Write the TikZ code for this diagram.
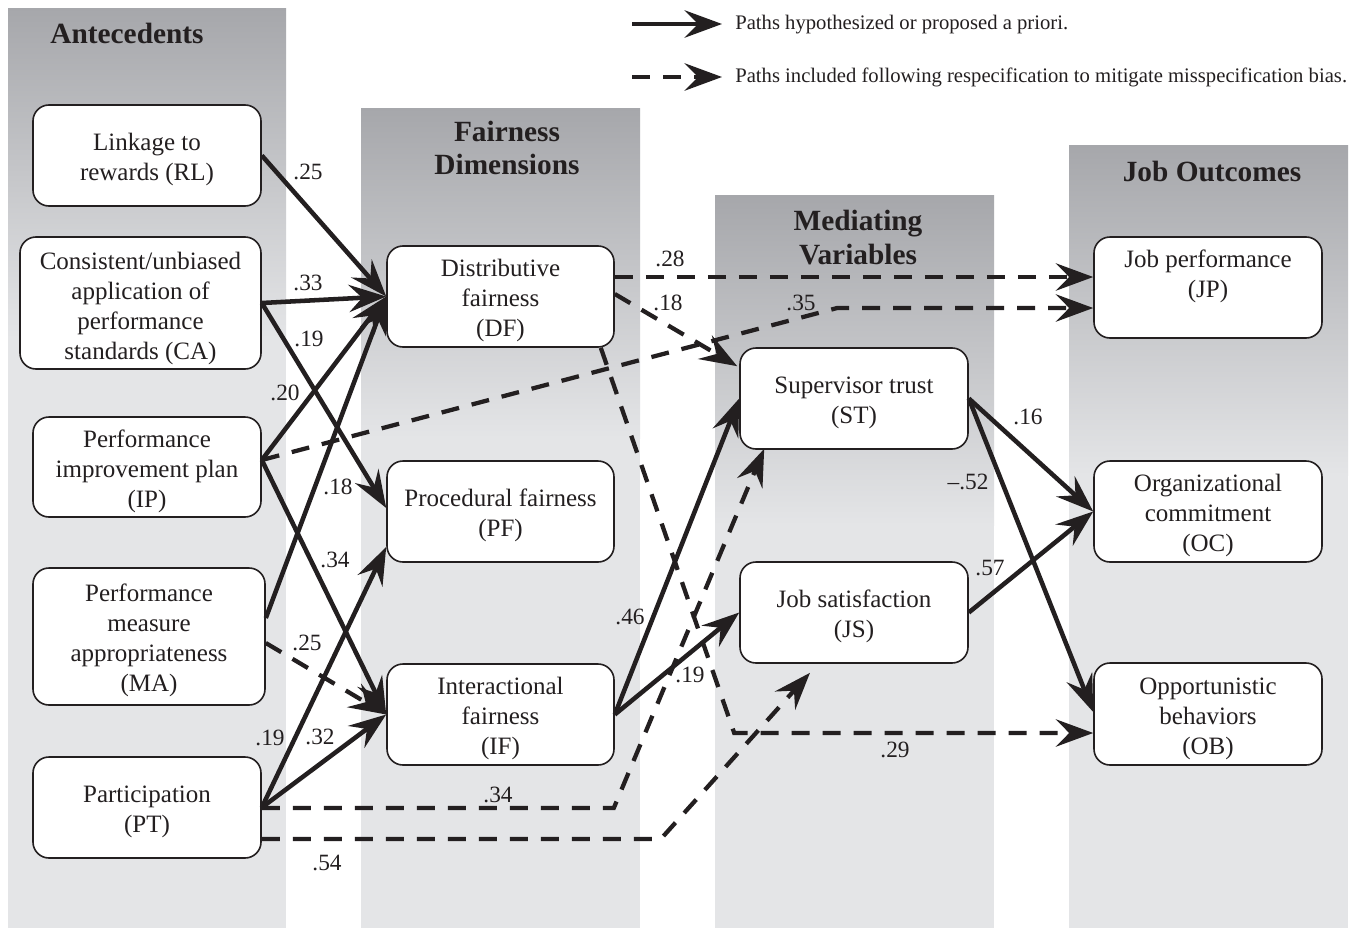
\documentclass[tikz,border=0pt]{standalone}
\usepackage{fontspec}
\setmainfont{Liberation Serif}
\usetikzlibrary{arrows.meta,calc}
\definecolor{ink}{RGB}{35,31,32}
\definecolor{bandtop}{RGB}{166,167,171}
\definecolor{bandbot}{RGB}{228,229,231}
\newcommand\Tstrut{\rule{0pt}{19pt}}
\begin{document}
\begin{tikzpicture}[x=0.75pt,y=-0.75pt,
  box/.style={draw=ink, line width=1.2pt, fill=white, rounded corners=12pt, align=center, inner sep=0pt, font=\fontsize{18.75}{22.5}\selectfont, text=ink},
  head/.style={font=\fontsize{22}{26}\selectfont\bfseries, text=ink, inner sep=0pt, anchor=base},
  lab/.style={font=\fontsize{17.5}{20}\selectfont, text=ink, inner sep=0pt},
  link/.style={draw=ink, line width=3.4pt, -{Stealth[length=28pt,width=20.5pt,inset=10pt]}},
  dlink/.style={link, line width=3.2pt, dash pattern=on 13.5pt off 9.75pt},
  legtext/.style={font=\fontsize{15.5}{18}\selectfont, text=ink, inner sep=0pt, anchor=base west},
]
\useasboundingbox (0,0) rectangle (1353,928);
\fill[white] (0,0) rectangle (1353,928);
% bands
\foreach \xa/\xb/\yt in {8/286/8, 361/640/108, 715/994/195, 1069/1348/145} {
  \shade[top color=bandtop, bottom color=bandbot] (\xa,\yt) rectangle (\xb,\yt+330);
  \fill[bandbot] (\xa,\yt+329) rectangle (\xb,928);
}
% headings
\node[head] (hAnt) at (127,43) {Antecedents};
\node[head] (hFair1) at (507,141) {Fairness};
\node[head] (hFair2) at (507,174) {Dimensions};
\node[head] (hMed1) at (858,230) {Mediating};
\node[head] (hMed2) at (858,264) {Variables};
\node[head] (hJob) at (1212,181) {Job Outcomes};
% boxes
\node[box, minimum width=171pt, minimum height=75.75pt] (RL) at (147,155.5) {\Tstrut Linkage to\\rewards (RL)};
\node[box, minimum width=180.75pt, minimum height=99pt] (CA) at (140.5,303) {\rule{0pt}{21pt}Consistent/unbiased\\application of\\performance\\standards (CA)};
\node[box, minimum width=171pt, minimum height=75pt] (IP) at (147,467) {\Tstrut Performance\\improvement plan\\(IP)};
\node[box, minimum width=174pt, minimum height=102.75pt] (MA) at (149,636.5) {\Tstrut Performance\\measure\\appropriateness\\(MA)};
\node[box, minimum width=171pt, minimum height=75.75pt] (PT) at (147,807.5) {\Tstrut Participation\\(PT)};
\node[box, minimum width=170.25pt, minimum height=75.75pt] (DF) at (500.5,296.5) {\Tstrut Distributive\\fairness\\(DF)};
\node[box, minimum width=170.25pt, minimum height=75.75pt] (PF) at (500.5,511.5) {\Tstrut Procedural fairness\\(PF)};
\node[box, minimum width=170.25pt, minimum height=75.75pt] (IF) at (500.5,714.5) {\Tstrut Interactional\\fairness\\(IF)};
\node[box, minimum width=171pt, minimum height=75.75pt] (ST) at (854,398.5) {\Tstrut Supervisor trust\\(ST)};
\node[box, minimum width=171pt, minimum height=75.75pt] (JS) at (854,612.5) {\Tstrut Job satisfaction\\(JS)};
\node[box, minimum width=171pt, minimum height=75.75pt] (JP) at (1208,287.5) {Job performance\\(JP)\rule[-20.5pt]{0pt}{0pt}};
\node[box, minimum width=171pt, minimum height=75.75pt] (OC) at (1208,511.5) {\Tstrut Organizational\\commitment\\(OC)};
\node[box, minimum width=171pt, minimum height=76.5pt] (OB) at (1208,714) {\rule{0pt}{20pt}Opportunistic\\behaviors\\(OB)};
% solid paths
\draw[link] (RL.east) -- (DF.west);
\draw[link] (CA.east) -- (DF.west);
\draw[link] (CA.east) -- ($(PF.west)+(0,-3.5)$);
\draw[link] ($(IP.east)+(0,-7)$) -- (DF.west);
\draw[link] ($(IP.east)+(0,-7)$) -- (IF.west);
\draw[link] ($(MA.east)+(0,-18.5)$) -- (DF.west);
\draw[link] (PT.east) -- ($(PF.west)+(0,35.5)$);
\draw[link] (PT.east) -- (IF.west);
\draw[link] (IF.east) -- (ST.west);
\draw[link] (IF.east) -- (JS.west);
\draw[link] (ST.east) -- (OC.west);
\draw[link] (ST.east) -- ($(OB.west)+(0,-2)$);
\draw[link] (JS.east) -- (OC.west);
% dashed paths
\draw[dlink] ($(MA.east)+(0,6.5)$) -- (IF.west);
\draw[dlink] ($(DF.east)+(0,-19.5)$) -- ($(JP.west)+(0,-10.5)$);
\draw[dlink] ($(DF.east)+(0,-2.5)$) -- ($(ST.north west)+(-2,19)$);
\draw[dlink] ($(DF.south east)+(-14,0)$) -- ($(OB.west)+(-359,19)$) -- ($(OB.west)+(0,19)$);
\draw[dlink] ($(IP.east)+(0,-7)$) -- ($(JP.west)+(-256,20.5)$) -- ($(JP.west)+(0,20.5)$);
\draw[dlink] ($(PT.east)+(0,0.5)$) -- ($(PT.east)+(352,0.5)$) -- ($(ST.south west)+(25,-1)$);
\draw[dlink] ($(PT.east)+(0,31.5)$) -- ($(PT.east)+(399,31.5)$) -- ($(JS.south)+(-44,9)$);
% labels
\node[lab] (a1) at (308,172) {.25};
\node[lab] (a2) at (308,283) {.33};
\node[lab] (a3) at (309,339) {.19};
\node[lab] (a4) at (285,393) {.20};
\node[lab] (a5) at (338,487) {.18};
\node[lab] (a6) at (335,560) {.34};
\node[lab] (a7) at (307,643) {.25};
\node[lab] (a8) at (270,738) {.19};
\node[lab] (a9) at (320,737) {.32};
\node[lab] (a10) at (498,795) {.34};
\node[lab] (a11) at (327,863) {.54};
\node[lab] (a12) at (670,259) {.28};
\node[lab] (a13) at (668,303) {.18};
\node[lab] (a14) at (801,303) {.35};
\node[lab] (a15) at (968,482) {\textendash.52};
\node[lab] (a16) at (630,617) {.46};
\node[lab] (a17) at (690,675) {.19};
\node[lab] (a18) at (895,750) {.29};
\node[lab] (a19) at (990,568) {.57};
\node[lab] (a20) at (1028,417) {.16};
% legend
\coordinate (lgA) at (632,24);
\coordinate (lgB) at (722,24);
\coordinate (lgC) at (632,77);
\coordinate (lgD) at (722,77);
\draw[link] (lgA) -- (lgB);
\draw[dlink] (lgC) -- (lgD);
\node[legtext] (lg1) at (735,29) {Paths hypothesized or proposed a priori.};
\node[legtext] (lg2) at (735,82) {Paths included following respecification to mitigate misspecification bias.};
\end{tikzpicture}
\end{document}
